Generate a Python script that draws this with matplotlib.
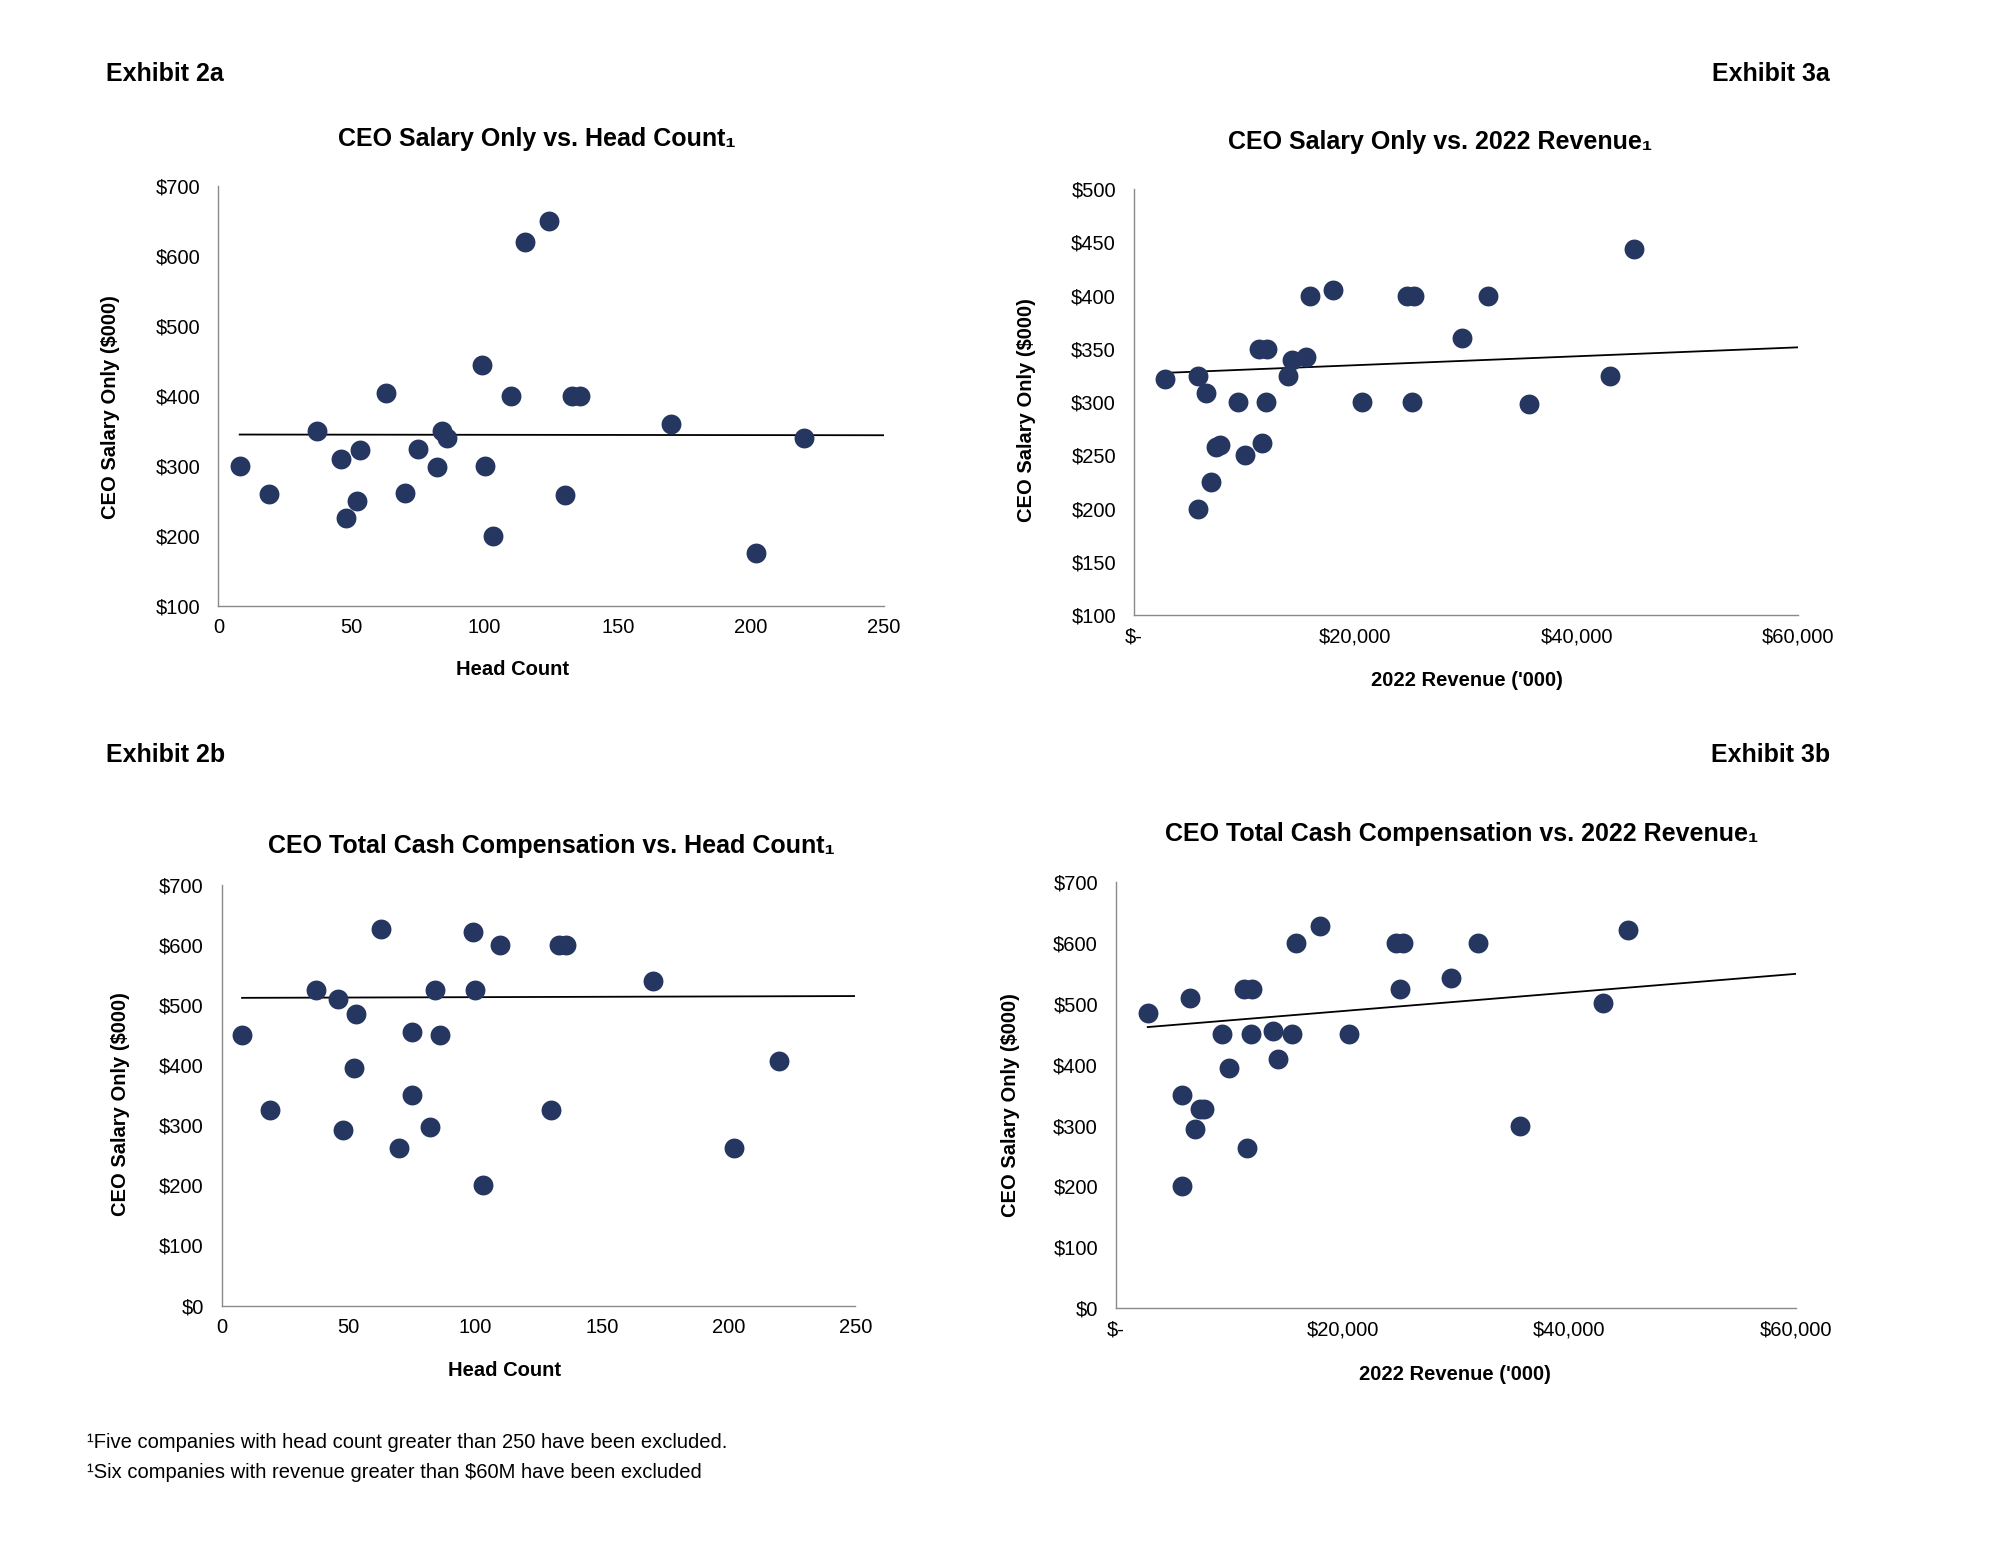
import numpy as np
import matplotlib
matplotlib.use("Agg")
import matplotlib.pyplot as plt
from matplotlib.ticker import FuncFormatter

plt.rcParams['font.family'] = ['Liberation Sans', 'DejaVu Sans']

# ---------------- data ----------------
# Exhibit 2a: Head count vs CEO salary only ($000)
hc_2a = [8, 19, 37, 46, 48, 52, 53, 63, 70, 75, 82, 84, 86, 99, 100, 103, 110,
         115, 124, 130, 133, 136, 170, 202, 220]
sal_2a = [300, 260, 350, 310, 225, 250, 323, 405, 262, 325, 298, 350, 340, 444,
          300, 200, 400, 620, 650, 258, 400, 400, 360, 175, 340]
trend_x_2a = [8, 250]
trend_y_2a = [345, 344]

# Exhibit 2b: Head count vs CEO total cash compensation ($000)
hc_2b = [8, 19, 37, 46, 48, 52, 53, 63, 70, 75, 75, 82, 84, 86, 99, 100, 103,
         110, 130, 133, 136, 170, 202, 220]
tcc_2b = [450, 325, 525, 510, 293, 395, 485, 628, 262, 455, 350, 298, 525, 450,
          622, 525, 200, 600, 326, 600, 600, 540, 263, 408]
trend_x_2b = [8, 250]
trend_y_2b = [512.5, 515.5]

# Exhibit 3a / 3b: 2022 revenue ('000)
rev = [2800, 5800, 6500, 5800, 7000, 7400, 7800, 9400, 10000, 11300, 12000,
       11600, 11900, 13900, 14300, 15500, 15900, 18000, 20600, 24700, 25300,
       25100, 29600, 32000, 35700, 43000, 45200]
sal_3a = [322, 325, 309, 200, 225, 258, 260, 300, 250, 350, 350, 262, 300, 325,
          340, 342, 400, 405, 300, 400, 400, 300, 360, 400, 298, 325, 444]
trend_x_3a = [2800, 60000]
trend_y_3a = [327.5, 351.5]

rev_3b = [2800, 6500, 5800, 5800, 7000, 7400, 7800, 9400, 10000, 11300, 12000,
          11600, 11900, 13900, 14300, 15500, 15900, 18000, 20600, 24700, 25300,
          25100, 29600, 32000, 35700, 43000, 45200]
tcc_3b = [485, 510, 350, 200, 294, 327, 327, 450, 395, 525, 525, 263, 450, 455,
          409, 450, 600, 628, 450, 600, 600, 525, 542, 600, 299, 501, 622]
trend_x_3b = [2800, 60000]
trend_y_3b = [462, 549.5]

hc_ticks = [0, 50, 100, 150, 200, 250]
rev_ticks = [0, 20000, 40000, 60000]
rev_tick_labels = ['$-', '$20,000', '$40,000', '$60,000']

DOT = '#253760'
SPINE = '#8a8a8a'
W, H = 2000, 1545

fig = plt.figure(figsize=(20, 15.45), dpi=100)
fig.patch.set_facecolor('white')


def fx(px):
    return px / W


def fy(py):
    return 1 - py / H


def make_ax(rect, x, y, tx, ty, xlim, ylim, xticks, yticks, xfmt):
    ax = fig.add_axes(rect)
    ax.scatter(x, y, s=205, color=DOT, zorder=3, linewidths=0)
    ax.plot(tx, ty, color='black', lw=1.3, zorder=2)
    ax.set_xlim(*xlim)
    ax.set_ylim(*ylim)
    ax.set_xticks(xticks)
    ax.set_yticks(yticks)
    ax.xaxis.set_major_formatter(xfmt)
    ax.yaxis.set_major_formatter(FuncFormatter(lambda v, p: f'${int(v)}'))
    for s in ['top', 'right']:
        ax.spines[s].set_visible(False)
    for s in ['left', 'bottom']:
        ax.spines[s].set_color(SPINE)
        ax.spines[s].set_linewidth(1.0)
    ax.tick_params(axis='both', length=0, labelsize=14.5, colors='black')
    ax.tick_params(axis='y', pad=13)
    ax.tick_params(axis='x', pad=9)
    ax.set_facecolor('white')
    return ax


hc_fmt = FuncFormatter(lambda v, p: f'{int(v)}')
rev_fmt = FuncFormatter(lambda v, p: rev_tick_labels[rev_ticks.index(int(round(v)))]
                        if int(round(v)) in rev_ticks else '')

# 2a
make_ax([0.1092, 0.6078, 0.3328, 0.2717], hc_2a, sal_2a, trend_x_2a, trend_y_2a,
        (0, 250), (100, 700), hc_ticks, range(100, 701, 100), hc_fmt)
# 3a
make_ax([0.5670, 0.6019, 0.3320, 0.2756], rev, sal_3a, trend_x_3a, trend_y_3a,
        (0, 60000), (100, 500), rev_ticks, range(100, 501, 50), rev_fmt)
# 2b
make_ax([0.1109, 0.1550, 0.3167, 0.2720], hc_2b, tcc_2b, trend_x_2b, trend_y_2b,
        (0, 250), (0, 700), hc_ticks, range(0, 701, 100), hc_fmt)
# 3b
make_ax([0.5580, 0.1534, 0.3398, 0.2755], rev_3b, tcc_3b, trend_x_3b, trend_y_3b,
        (0, 60000), (0, 700), rev_ticks, range(0, 701, 100), rev_fmt)

# Exhibit labels
fig.text(fx(106), fy(74), 'Exhibit 2a', fontsize=18, fontweight='bold', ha='left', va='center')
fig.text(fx(1830), fy(74), 'Exhibit 3a', fontsize=18, fontweight='bold', ha='right', va='center')
fig.text(fx(106), fy(755), 'Exhibit 2b', fontsize=18, fontweight='bold', ha='left', va='center')
fig.text(fx(1830), fy(755), 'Exhibit 3b', fontsize=18, fontweight='bold', ha='right', va='center')

# Titles
titles = [
    ('CEO Salary Only vs. Head Count', 537, 139),
    ('CEO Salary Only vs. 2022 Revenue', 1440, 142),
    ('CEO Total Cash Compensation vs. Head Count', 551, 846),
    ('CEO Total Cash Compensation vs. 2022 Revenue', 1462, 834),
]
for t, x, y in titles:
    fig.text(fx(x), fy(y), t + '\u2081', fontsize=18, fontweight='bold',
             ha='center', va='center')

# X labels
for t, x, y in [('Head Count', 513, 670), ("2022 Revenue ('000)", 1467, 680),
                ('Head Count', 505, 1370), ("2022 Revenue ('000)", 1455, 1375)]:
    fig.text(fx(x), fy(y), t, fontsize=14.5, fontweight='bold', ha='center', va='center')

# Y labels
for x, y in [(110, 407), (1026, 410), (120, 1104), (1010, 1105)]:
    fig.text(fx(x), fy(y), 'CEO Salary Only ($000)', fontsize=14.5, fontweight='bold',
             rotation=90, ha='center', va='center')

# Footnotes
fig.text(fx(87), fy(1442), '\u00b9Five companies with head count greater than 250 have been excluded.',
         fontsize=14.5, ha='left', va='center')
fig.text(fx(87), fy(1473), '\u00b9Six companies with revenue greater than $60M have been excluded',
         fontsize=14.5, ha='left', va='center')

fig.savefig('out.png', dpi=100, facecolor='white')
